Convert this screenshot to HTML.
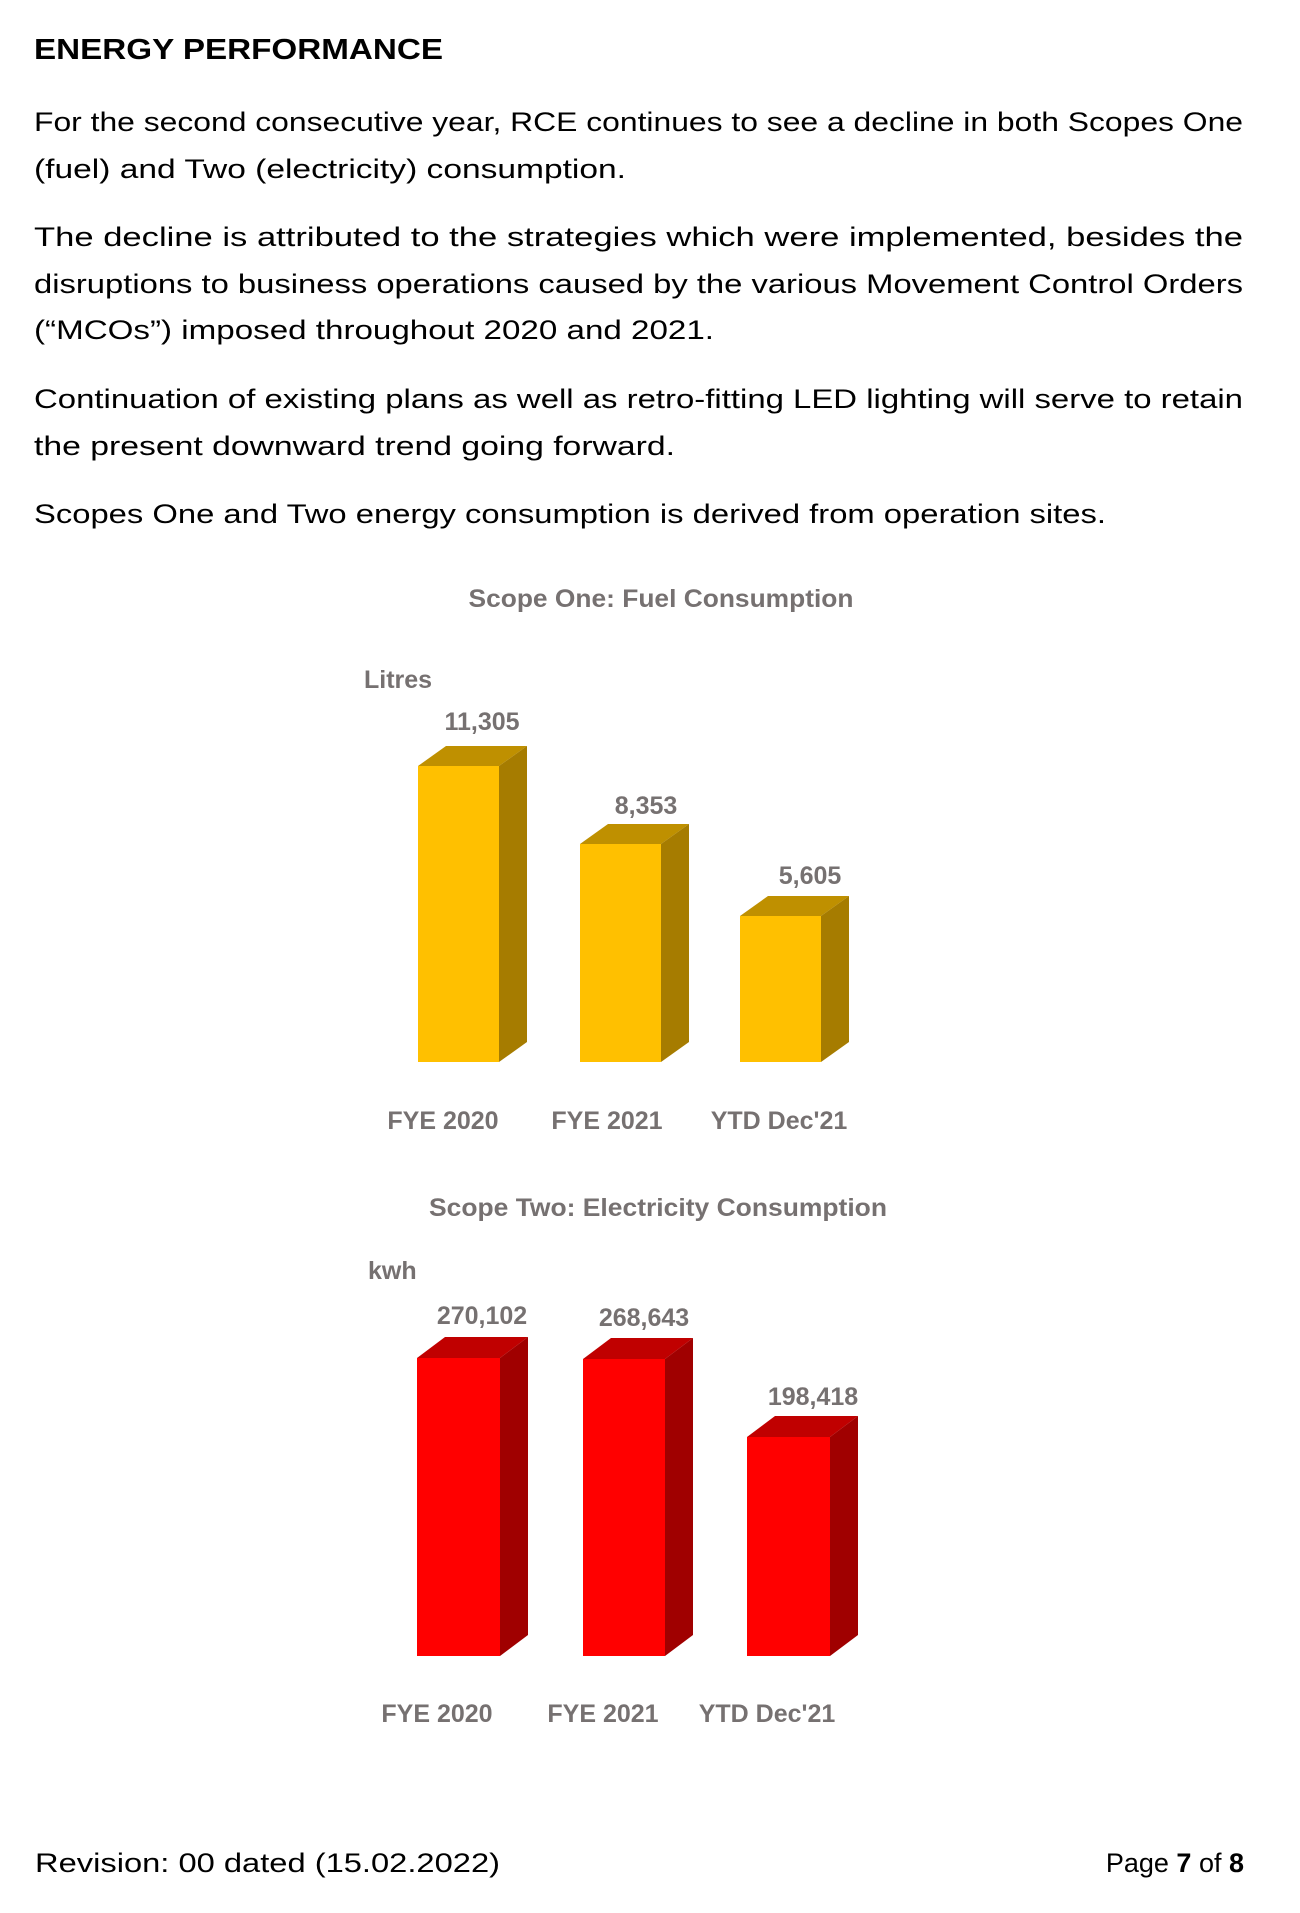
<!DOCTYPE html>
<html><head><meta charset="utf-8"><style>html,body{margin:0;padding:0;background:#fff}svg{display:block}</style></head>
<body>
<svg width="1300" height="1913" viewBox="0 0 1300 1913" xmlns="http://www.w3.org/2000/svg" font-family="Liberation Sans, sans-serif">
<g fill="#000" font-size="27">
<text x="34" y="59" font-weight="bold" font-size="29" textLength="409" lengthAdjust="spacingAndGlyphs">ENERGY PERFORMANCE</text>
<text x="34" y="131" textLength="1209" lengthAdjust="spacingAndGlyphs">For the second consecutive year, RCE continues to see a decline in both Scopes One</text>
<text x="34" y="178" textLength="592" lengthAdjust="spacingAndGlyphs">(fuel) and Two (electricity) consumption.</text>
<text x="34" y="246" textLength="1209" lengthAdjust="spacingAndGlyphs">The decline is attributed to the strategies which were implemented, besides the</text>
<text x="34" y="293" textLength="1209" lengthAdjust="spacingAndGlyphs">disruptions to business operations caused by the various Movement Control Orders</text>
<text x="34" y="339" textLength="680" lengthAdjust="spacingAndGlyphs">(“MCOs”) imposed throughout 2020 and 2021.</text>
<text x="34" y="408" textLength="1209" lengthAdjust="spacingAndGlyphs">Continuation of existing plans as well as retro-fitting LED lighting will serve to retain</text>
<text x="34" y="455" textLength="641" lengthAdjust="spacingAndGlyphs">the present downward trend going forward.</text>
<text x="34" y="523" textLength="1072" lengthAdjust="spacingAndGlyphs">Scopes One and Two energy consumption is derived from operation sites.</text>
</g>
<g fill="#767171" font-weight="bold" font-size="25" text-anchor="middle">
<text x="661" y="607" textLength="385" lengthAdjust="spacingAndGlyphs">Scope One: Fuel Consumption</text>
<text x="364" y="688" text-anchor="start">Litres</text>
<text x="482" y="730">11,305</text>
<text x="646" y="814">8,353</text>
<text x="810" y="884">5,605</text>
<text x="443" y="1129">FYE 2020</text>
<text x="607" y="1129">FYE 2021</text>
<text x="779" y="1129">YTD Dec'21</text>
<text x="658" y="1216" textLength="458" lengthAdjust="spacingAndGlyphs">Scope Two: Electricity Consumption</text>
<text x="368" y="1279" text-anchor="start">kwh</text>
<text x="482" y="1324">270,102</text>
<text x="644" y="1326">268,643</text>
<text x="813" y="1405">198,418</text>
<text x="437" y="1722">FYE 2020</text>
<text x="603" y="1722">FYE 2021</text>
<text x="767" y="1722">YTD Dec'21</text>
</g>
<g>
<polygon points="418,766 446,746 527,746 499,766" fill="#bf9000"/>
<polygon points="499,766 527,746 527,1042 499,1062" fill="#a67c00"/>
<rect x="418" y="766" width="81" height="296" fill="#ffc000"/>
<polygon points="580,844 608,824 689,824 661,844" fill="#bf9000"/>
<polygon points="661,844 689,824 689,1042 661,1062" fill="#a67c00"/>
<rect x="580" y="844" width="81" height="218" fill="#ffc000"/>
<polygon points="740,916 768,896 849,896 821,916" fill="#bf9000"/>
<polygon points="821,916 849,896 849,1042 821,1062" fill="#a67c00"/>
<rect x="740" y="916" width="81" height="146" fill="#ffc000"/>
</g>
<g>
<polygon points="417,1358 445,1337 528,1337 500,1358" fill="#c00000"/>
<polygon points="500,1358 528,1337 528,1635 500,1656" fill="#a00000"/>
<rect x="417" y="1358" width="83" height="298" fill="#ff0000"/>
<polygon points="583,1359 611,1338 693,1338 665,1359" fill="#c00000"/>
<polygon points="665,1359 693,1338 693,1635 665,1656" fill="#a00000"/>
<rect x="583" y="1359" width="82" height="297" fill="#ff0000"/>
<polygon points="747,1437 775,1416 858,1416 830,1437" fill="#c00000"/>
<polygon points="830,1437 858,1416 858,1635 830,1656" fill="#a00000"/>
<rect x="747" y="1437" width="83" height="219" fill="#ff0000"/>
</g>
<g fill="#000" font-size="27">
<text x="35" y="1872" textLength="465" lengthAdjust="spacingAndGlyphs">Revision: 00 dated (15.02.2022)</text>
<text x="1244" y="1872" text-anchor="end">Page <tspan font-weight="bold">7</tspan> of <tspan font-weight="bold">8</tspan></text>
</g>
</svg>
</body></html>
